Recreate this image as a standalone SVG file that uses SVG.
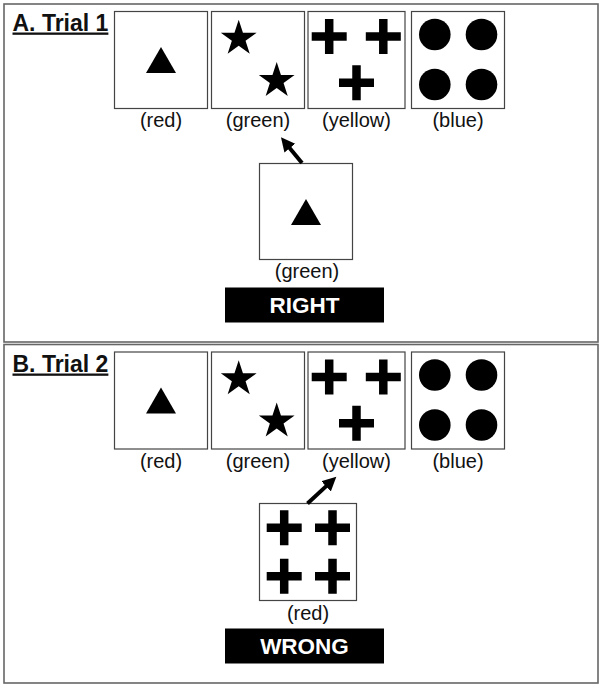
<svg xmlns="http://www.w3.org/2000/svg" xmlns:xlink="http://www.w3.org/1999/xlink" width="603" height="688" viewBox="0 0 603 688">
<style>
.panel{fill:#fff;stroke:#666;stroke-width:1.6}
.card{fill:#fff;stroke:#444;stroke-width:1.2}
.lbl{font-family:"Liberation Sans",Arial,sans-serif;font-size:20px;fill:#111;text-anchor:middle}
.title{font-family:"Liberation Sans",Arial,sans-serif;font-size:23px;font-weight:bold;fill:#111;text-decoration:underline}
.fb{fill:#000}
.fbt{font-family:"Liberation Sans",Arial,sans-serif;font-size:22.5px;font-weight:bold;fill:#fff;text-anchor:middle}
.conn{stroke:#000;stroke-width:4;fill:none}
</style>
<defs>
<path id="star" d="M0,-18.8 L4.24,-5.83 L17.88,-5.81 L6.85,2.22 L11.05,15.21 L0,7.2 L-11.05,15.21 L-6.85,2.22 L-17.88,-5.81 L-4.24,-5.83 Z" fill="#000"/>
<path id="cross" d="M-17.5,-4.25 H-4.25 V-17.5 H4.25 V-4.25 H17.5 V4.25 H4.25 V17.5 H-4.25 V4.25 H-17.5 Z" fill="#000"/>
<path id="tri" d="M0,-13 L15,13 L-15,13 Z" fill="#000"/>
<marker id="ah" markerUnits="userSpaceOnUse" markerWidth="16" markerHeight="16" refX="1" refY="7" orient="auto">
<path d="M0,0 L14,7 L0,14 Z" fill="#000"/>
</marker>
</defs>
<rect width="603" height="688" fill="#fff"/>
<rect class="panel" x="4" y="4" width="594" height="338"/>
<rect class="panel" x="4" y="344.5" width="594" height="338.5"/>

<g id="panelA">
<text class="title" x="12.5" y="30.5">A. Trial 1</text>
<g id="a-red"><rect class="card" x="114.5" y="11.5" width="93" height="97"/><use xlink:href="#tri" x="161" y="60"/><text class="lbl" x="161" y="126.5">(red)</text></g>
<g id="a-green"><rect class="card" x="211.5" y="11.5" width="93" height="97"/><use xlink:href="#star" x="238.7" y="38.6"/><use xlink:href="#star" x="276.7" y="80.8"/><text class="lbl" x="258" y="126.5">(green)</text></g>
<g id="a-yellow"><rect class="card" x="308" y="11.5" width="97" height="97"/><use xlink:href="#cross" x="329.2" y="36.5"/><use xlink:href="#cross" x="383.3" y="36.5"/><use xlink:href="#cross" x="356.5" y="82.8"/><text class="lbl" x="356.5" y="126.5">(yellow)</text></g>
<g id="a-blue"><rect class="card" x="411.5" y="11.5" width="93" height="97"/><circle cx="434.8" cy="34.5" r="15.8"/><circle cx="481.5" cy="34.5" r="15.8"/><circle cx="434.8" cy="84.5" r="15.8"/><circle cx="481.5" cy="84.5" r="15.8"/><text class="lbl" x="458" y="126.5">(blue)</text></g>
<g id="a-test"><rect class="card" x="259.5" y="163.5" width="93" height="96"/><use xlink:href="#tri" x="306" y="212"/><text class="lbl" x="307" y="277.5">(green)</text></g>
<g id="a-feedback"><rect class="fb" x="225" y="287.5" width="159" height="35"/><text class="fbt" x="304.5" y="313.3">RIGHT</text></g>
</g>

<g id="panelB">
<text class="title" x="12.5" y="371.5">B. Trial 2</text>
<g id="b-red"><rect class="card" x="114.5" y="352" width="93" height="97"/><use xlink:href="#tri" x="161" y="400.5"/><text class="lbl" x="161" y="468">(red)</text></g>
<g id="b-green"><rect class="card" x="211.5" y="352" width="93" height="97"/><use xlink:href="#star" x="238.7" y="379.1"/><use xlink:href="#star" x="276.7" y="421.3"/><text class="lbl" x="258" y="468">(green)</text></g>
<g id="b-yellow"><rect class="card" x="308" y="352" width="97" height="97"/><use xlink:href="#cross" x="329.2" y="377"/><use xlink:href="#cross" x="383.3" y="377"/><use xlink:href="#cross" x="356.5" y="423.3"/><text class="lbl" x="356.5" y="468">(yellow)</text></g>
<g id="b-blue"><rect class="card" x="411.5" y="352" width="93" height="97"/><circle cx="434.8" cy="375" r="15.8"/><circle cx="481.5" cy="375" r="15.8"/><circle cx="434.8" cy="425" r="15.8"/><circle cx="481.5" cy="425" r="15.8"/><text class="lbl" x="458" y="468">(blue)</text></g>
<g id="b-test"><rect class="card" x="259.5" y="503.5" width="97" height="97"/><use xlink:href="#cross" x="284.2" y="527.8"/><use xlink:href="#cross" x="332.5" y="527.8"/><use xlink:href="#cross" x="284.2" y="576.3"/><use xlink:href="#cross" x="332.5" y="576.3"/><text class="lbl" x="308" y="620">(red)</text></g>
<g id="b-feedback"><rect class="fb" x="225" y="628.5" width="159" height="35"/><text class="fbt" x="304.5" y="653.5">WRONG</text></g>
</g>

<g id="connectors">
<line class="conn" x1="302" y1="163" x2="289.2" y2="147.4" marker-end="url(#ah)"/>
<line class="conn" x1="307.5" y1="503.5" x2="326.8" y2="485.6" marker-end="url(#ah)"/>
</g>
</svg>
